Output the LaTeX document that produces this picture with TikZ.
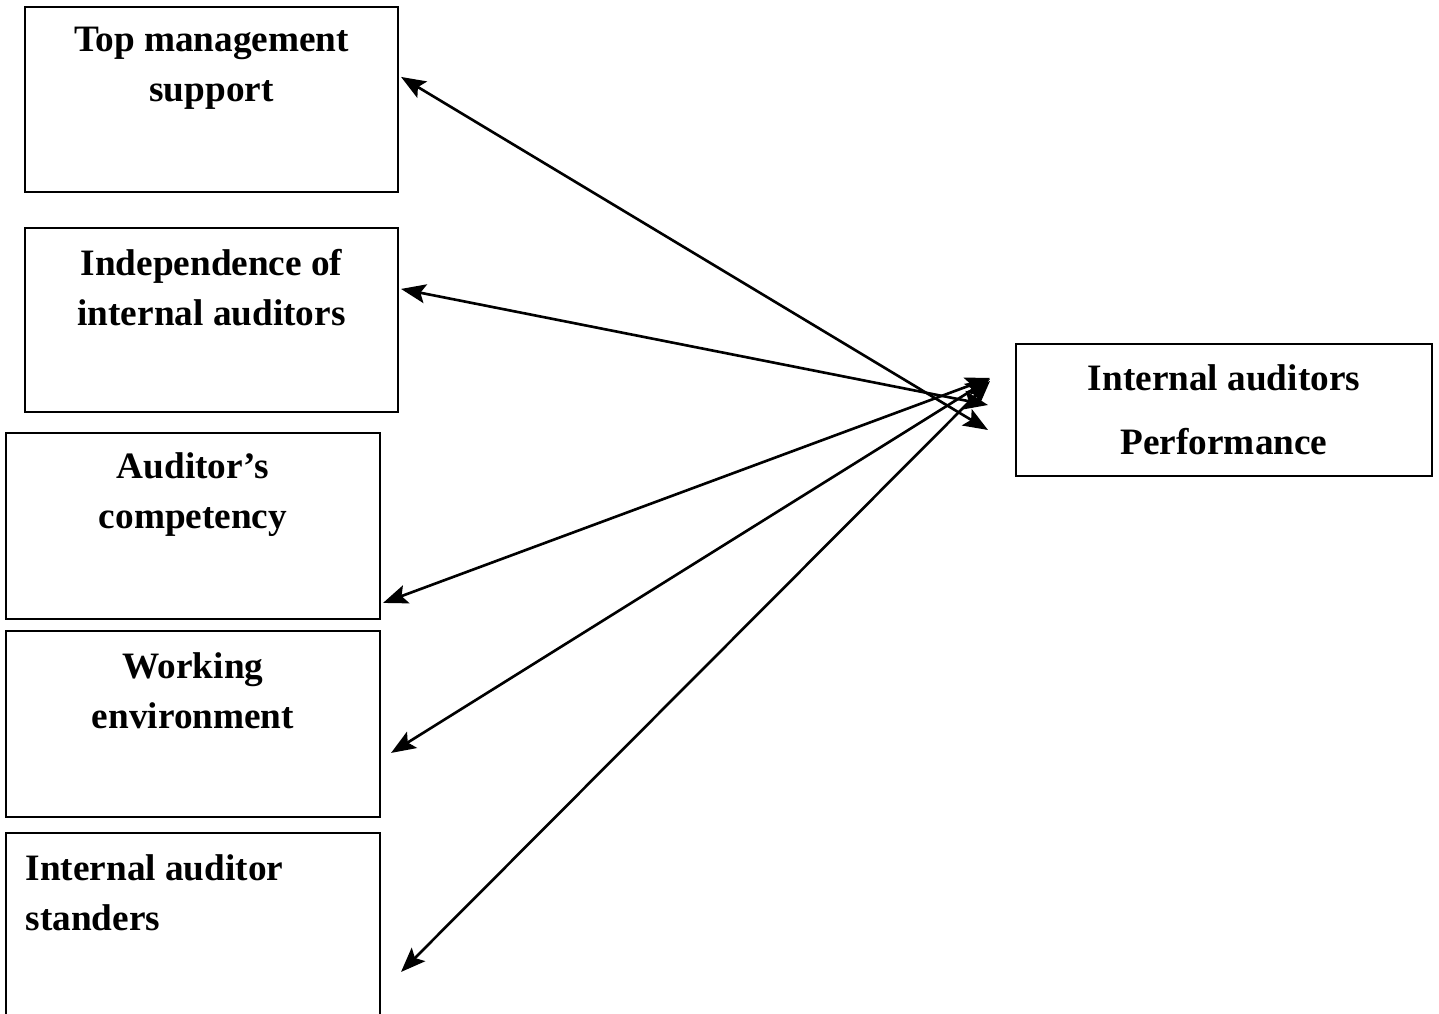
\documentclass[tikz,border=0pt]{standalone}
\usepackage{fontspec}
\setmainfont{Liberation Serif}
\usetikzlibrary{arrows.meta,calc,positioning}

\begin{document}
\begin{tikzpicture}[>={Stealth[length=7pt,width=5.4pt,inset=1.4pt]},box/.style={draw,line width=0.6pt,inner sep=0pt},txt/.style={font=\fontsize{10.6}{14.2}\selectfont\bfseries,align=center,inner sep=0pt},link/.style={<->,line width=0.75pt}]
\clip (0,0) rectangle (14.39,-10.14);
% factor boxes
\node[box,minimum width=3.73cm,minimum height=1.85cm] (tms) at (2.115,-0.995) {}; \node[txt] (tmsl) at ($(tms.north)+(0,-0.62)$) {Top management\\support};
\node[box,minimum width=3.73cm,minimum height=1.84cm] (ind) at (2.115,-3.20) {}; \node[txt] (indl) at ($(ind.north)+(0,-0.605)$) {Independence of\\internal auditors};
\node[box,minimum width=3.74cm,minimum height=1.86cm] (comp) at (1.93,-5.26) {}; \node[txt] (compl) at ($(comp.north)+(0,-0.625)$) {Auditor’s\\competency};
\node[box,minimum width=3.74cm,minimum height=1.86cm] (env) at (1.93,-7.24) {}; \node[txt] (envl) at ($(env.north)+(0,-0.61)$) {Working\\environment};
\node[box,minimum width=3.74cm,minimum height=2.07cm] (std) at (1.93,-9.365) {}; \node[txt,align=left,anchor=west] (stdl) at ($(std.north west)+(0.20,-0.61)$) {Internal auditor\\standers};
% outcome box
\node[box,minimum width=4.16cm,minimum height=1.32cm,txt,font=\fontsize{10.6}{18.1}\selectfont\bfseries] (perf) at (12.24,-4.10) {Internal auditors\\Performance};
% free ends near the outcome box
\coordinate (tmsend) at (9.88,-4.30); \coordinate (indend) at (9.88,-4.05); \coordinate (compend) at (9.90,-3.78); \coordinate (envend) at (9.90,-3.79); \coordinate (stdend) at (9.90,-3.81);
\draw[link] ([xshift=0.02cm,yshift=-0.71cm]tms.north east)--(tmsend);
\draw[link] ([xshift=0.02cm,yshift=-0.62cm]ind.north east)--(indend);
\draw[link] ([xshift=0.02cm,yshift=-1.71cm]comp.north east)--(compend);
\draw[link] ([xshift=0.10cm,yshift=-1.23cm]env.north east)--(envend);
\draw[link] ([xshift=0.20cm,yshift=-1.40cm]std.north east)--(stdend);
\end{tikzpicture}
\end{document}
